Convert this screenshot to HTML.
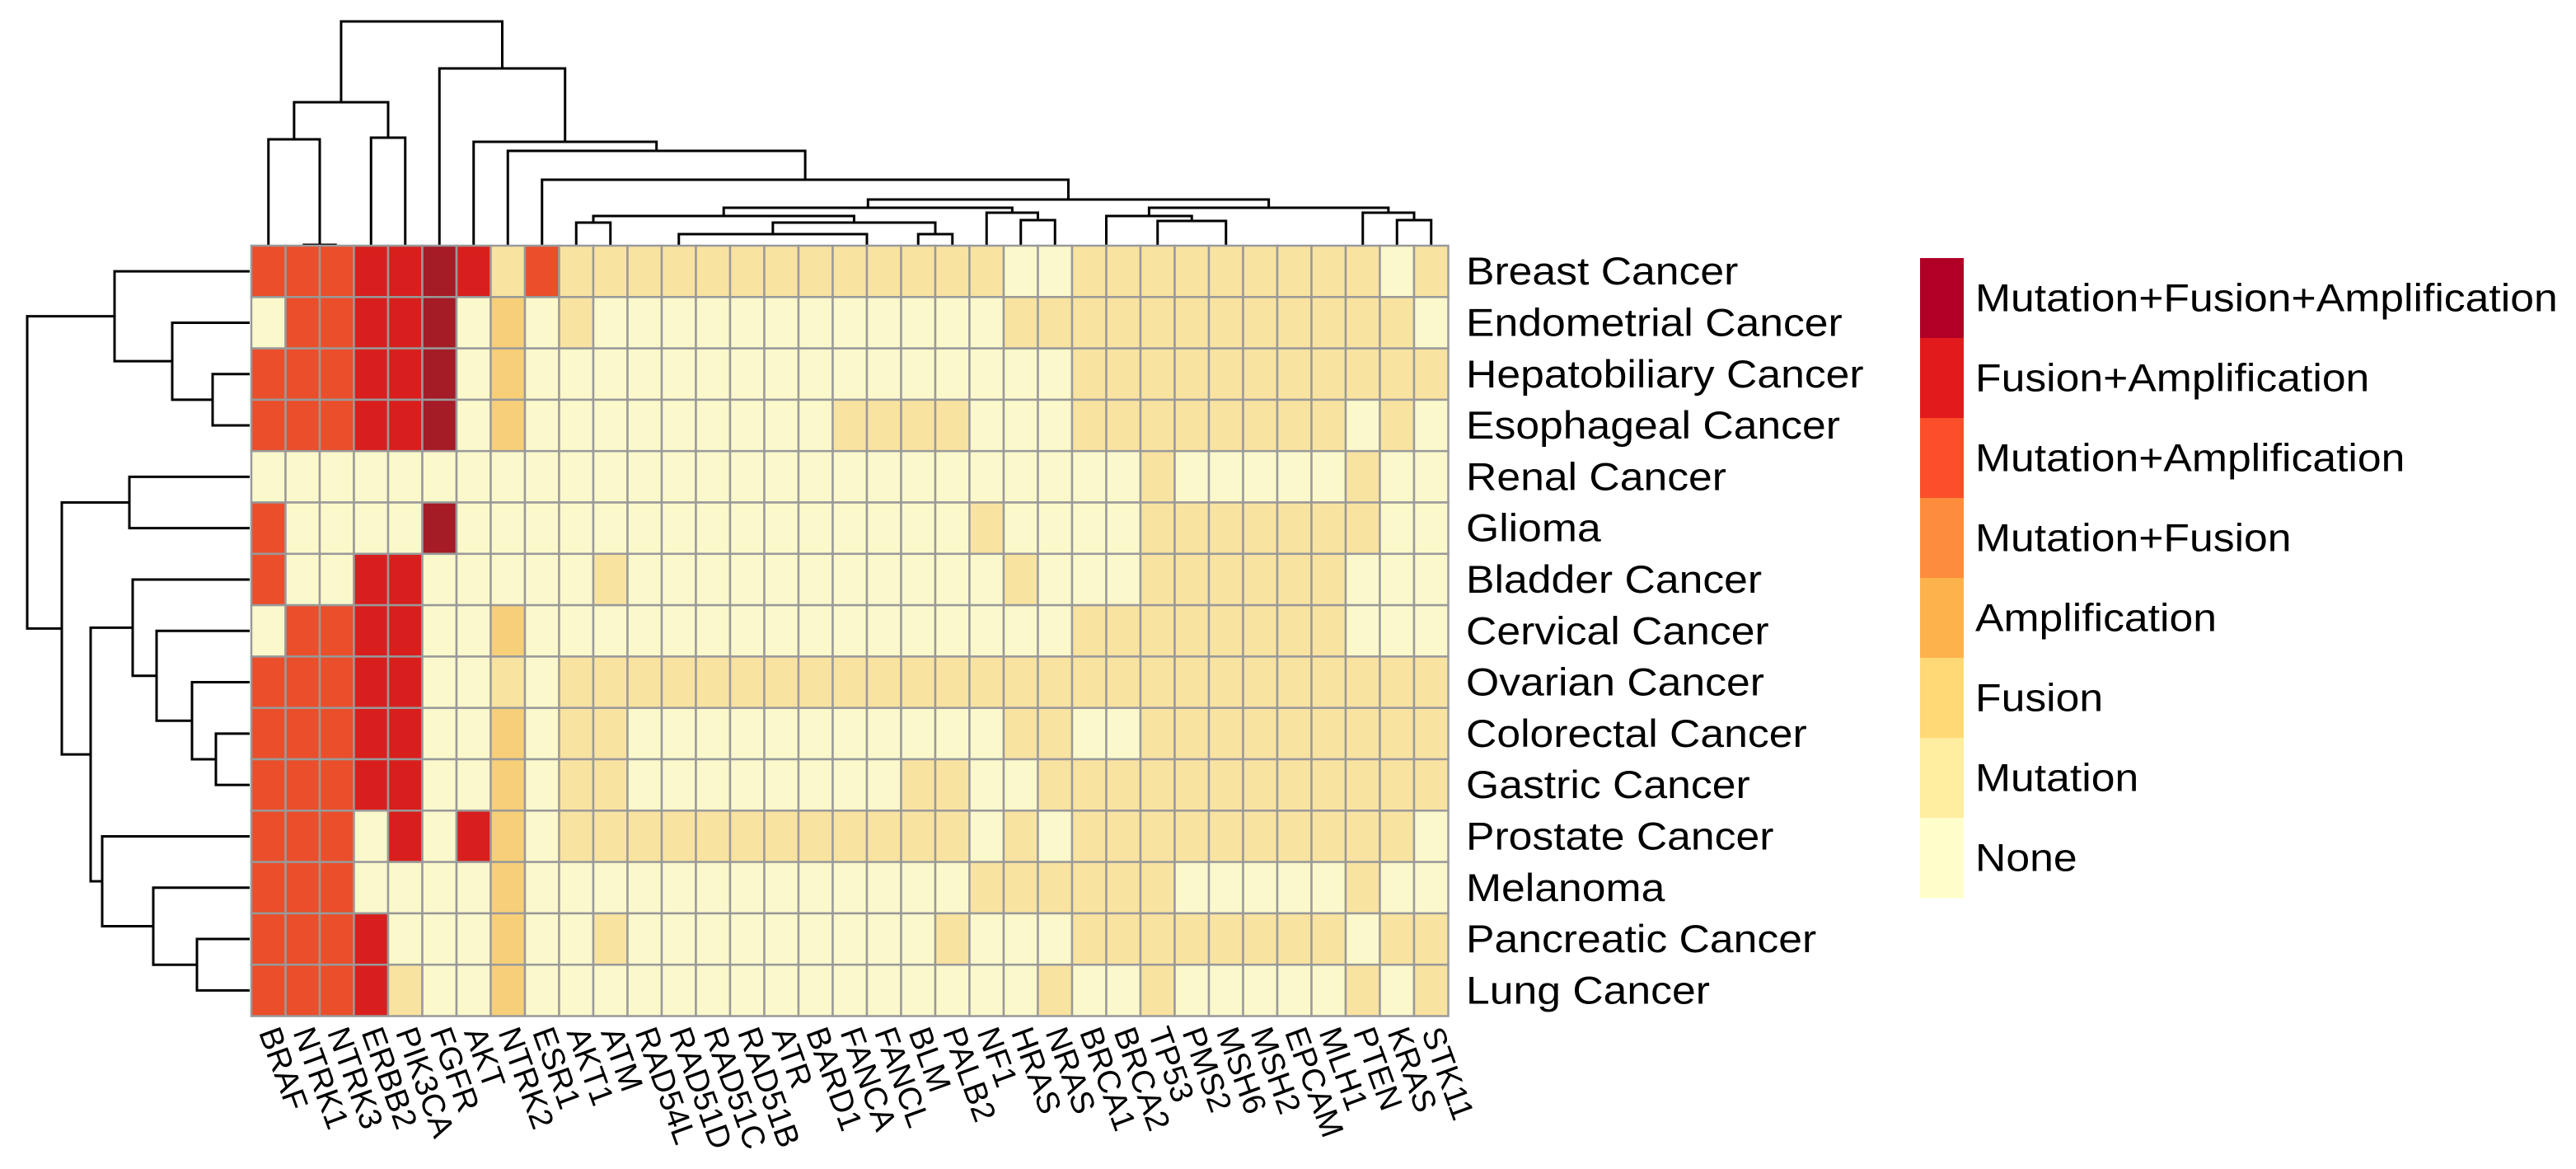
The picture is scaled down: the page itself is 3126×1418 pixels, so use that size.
<!DOCTYPE html>
<html><head><meta charset="utf-8"><style>
html,body{margin:0;padding:0;background:#fff;}
svg{display:block;font-family:"Liberation Sans",Arial,sans-serif;}
</style></head><body>
<svg id="chart" width="3126" height="1418" viewBox="0 0 3126 1418" xmlns="http://www.w3.org/2000/svg">
<g id="topTree"></g>
<g id="leftTree"></g>
<g id="cells"></g>
<g id="rowLabels"></g>
<g id="colLabels"></g>
<g id="legend"></g>
</svg>
<script>
const genes = ["BRAF","NTRK1","NTRK3","ERBB2","PIK3CA","FGFR","AKT","NTRK2","ESR1","AKT1","ATM","RAD54L","RAD51D","RAD51C","RAD51B","ATR","BARD1","FANCA","FANCL","BLM","PALB2","NF1","HRAS","NRAS","BRCA1","BRCA2","TP53","PMS2","MSH6","MSH2","EPCAM","MLH1","PTEN","KRAS","STK11"];
const cancers = ["Breast Cancer","Endometrial Cancer","Hepatobiliary Cancer","Esophageal Cancer","Renal Cancer","Glioma","Bladder Cancer","Cervical Cancer","Ovarian Cancer","Colorectal Cancer","Gastric Cancer","Prostate Cancer","Melanoma","Pancreatic Cancer","Lung Cancer"];
const categories = ["None","Mutation","Fusion","Amplification","Mutation+Fusion","Mutation+Amplification","Fusion+Amplification","Mutation+Fusion+Amplification"];
const row0  = [5,5,5,6,6,7,6,1,5, 1,1,1,1,1,1,1,1,1, 1,1,1,1, 0,0, 1,1,1,1,1,1,1,1,1, 0,1];
const row1  = [0,5,5,6,6,7,0,2,0, 1, 0,0,0,0,0,0,0,0, 0,0,0,0, 1,1,1,1,1,1,1,1,1,1,1,1, 0];
const row2  = [5,5,5,6,6,7,0,2,0, 0,0,0,0,0,0,0,0,0, 0,0,0,0,0,0, 1,1,1,1,1,1,1,1,1,1,1];
const row3  = [5,5,5,6,6,7,0,2,0, 0,0,0,0,0,0,0,0, 1, 1,1,1, 0,0,0, 1,1,1,1,1,1,1,1, 0,1,0];
const row4  = [0,0,0,0,0,0,0,0,0,0,0,0,0,0,0,0,0,0,0,0,0,0,0,0,0,0, 1, 0,0,0,0,0, 1, 0,0];
const row5  = [5,0,0,0,0,7, 0,0,0,0,0,0,0,0,0,0,0,0,0,0,0, 1, 0,0,0,0, 1,1,1,1,1,1,1, 0,0];
const row6  = [5,0,0,6,6, 0,0,0,0,0, 1, 0,0,0,0,0,0,0,0,0,0,0, 1, 0,0,0, 1,1,1,1,1,1, 0,0,0];
const row7  = [0,5,5,6,6,0,0,2,0, 0,0,0,0,0,0,0,0,0,0,0,0,0,0,0, 1,1,1,1,1,1,1,1, 0,0,0];
const row8  = [5,5,5,6,6,0,0,1,0, 1,1,1,1,1,1,1,1,1,1,1,1,1,1,1,1,1,1,1,1,1,1,1,1,1,1];
const row9  = [5,5,5,6,6,0,0,2,0,1,1, 0,0,0,0,0,0,0, 0,0,0,0, 1,1, 0,0, 1,1,1,1,1,1,1,1,1];
const row10 = [5,5,5,6,6,0,0,2,0,1,1, 0,0,0,0,0,0,0, 0, 1,1, 0,0, 1,1,1,1,1,1,1,1,1,1,1,1];
const row11 = [5,5,5,0,6,0,6,2,0, 1,1,1,1,1,1,1,1,1, 1,1,1, 0, 1, 0, 1,1,1,1,1,1,1,1,1,1, 0];
const row12 = [5,5,5,0,0,0,0,2,0, 0,0,0,0,0,0,0,0,0, 0,0,0, 1,1,1,1,1,1, 0,0,0,0,0, 1, 0,0];
const row13 = [5,5,5,6,0,0,0,2,0,0,1, 0,0,0,0,0,0,0, 0,0,1,0,0,0, 1,1,1,1,1,1,1,1, 0,1,1];
const row14 = [5,5,5,6,1,0,0,2,0, 0,0,0,0,0,0,0,0,0, 0,0,0,0,0, 1, 0,0, 1, 0,0,0,0,0, 1, 0,1];
const values = [row0,row1,row2,row3,row4,row5,row6,row7,row8,row9,row10,row11,row12,row13,row14];

const colTree = {
 a:[1,2,297], b:[0,"a",169], c:[3,4,167], d:["b","c",124],
 n1:[9,10,270], n2:[12,17.5,284], n3:[19,20,284], n4:["n2","n3",270], n5:["n1","n4",262],
 n6:[22,23,267], n7:[21,"n6",258], n8:["n5","n7",252],
 n9:[26,28,268], n10:[24.5,"n9",262], n11:[33,34,267], n12:[32,"n11",258], n13:["n10","n12",252],
 n14:["n8","n13",242], n15:[8,"n14",218], n16:[7,"n15",183], n17:[6,"n16",172], n18:[5,"n17",83],
 root:["d","n18",26]
};
const rowTree = {
 r1:[2,3,258], r2:[1,"r1",209], r3:[0,"r2",139], r4:[4,5,157],
 r5:[9,10,262], r6:[8,"r5",233], r7:[7,"r6",190], r8:[6,"r7",161],
 r9:[13,14,239], r10:[12,"r9",186], r11:[11,"r10",124], r12:["r8","r11",110],
 r13:["r4","r12",75], root:["r3","r13",33]
};

const NS="http://www.w3.org/2000/svg";
const X0=305, Y0=298, CW=41.5, RH=62.3;
const cellColors=["#FBF8CB","#F9E3A0","#F8CF79","#F6AE4F","#F38D3E","#EB4E2B","#D81F1D","#A51B26"];
const legendColors=["#FFFFCC","#FFEDA0","#FED976","#FEB24C","#FD8D3C","#FC4E2A","#E31A1C","#B10026"];
const xCol=i=>X0+CW*(i+0.5);
const yRow=i=>Y0+RH*(i+0.5);
function mk(tag,attrs,parent){const e=document.createElementNS(NS,tag);for(const k in attrs)e.setAttribute(k,attrs[k]);parent.appendChild(e);return e;}

const gC=document.getElementById('cells');
values.forEach((row,r)=>row.forEach((v,c)=>{
  const e=mk('rect',{x:X0+c*CW,y:Y0+r*RH,width:CW,height:RH,fill:cellColors[v],stroke:"#999",'stroke-width':2.5},gC);
  
  
}));

const gR=document.getElementById('rowLabels');
cancers.forEach((n,r)=>{
  const t=mk('text',{x:0,y:0,'font-size':47,fill:"#000",transform:`translate(1779 ${yRow(r)+16}) scale(1.1 1)`},gR);
  t.textContent=n;
  
  
});
const gL=document.getElementById('colLabels');
genes.forEach((n,c)=>{
  const x=xCol(c)-12, y=1252;
  const t=mk('text',{x:x,y:y,'font-size':39,fill:"#000",transform:`rotate(70 ${x} ${y})`},gL);
  t.textContent=n;
  
  
});

const gT=document.getElementById('topTree');
function colNode(k){
  if(typeof k==="number") return {x:xCol(k),y:297};
  const [l,r,h]=colTree[k]; const L=colNode(l),R=colNode(r);
  const p=mk('path',{d:`M${L.x},${L.y}V${h}H${R.x}V${R.y}`,fill:"none",stroke:"#000",'stroke-width':3},gT);
  
  
  return {x:(L.x+R.x)/2,y:h};
}
colNode("root");
const gD=document.getElementById('leftTree');
function rowNode(k){
  if(typeof k==="number") return {x:303,y:yRow(k)};
  const [a,b,h]=rowTree[k]; const A=rowNode(a),B=rowNode(b);
  const p=mk('path',{d:`M${A.x},${A.y}H${h}V${B.y}H${B.x}`,fill:"none",stroke:"#000",'stroke-width':3},gD);
  
  
  return {x:h,y:(A.y+B.y)/2};
}
rowNode("root");

const gG=document.getElementById('legend');
const LY=313, LH=97;
for(let i=7;i>=0;i--){
  const k=7-i;
  const r=mk('rect',{x:2330,y:LY+k*LH,width:53,height:LH+0.5,fill:legendColors[i]},gG);
  
  
  const t=mk('text',{x:0,y:0,'font-size':47,fill:"#000",transform:`translate(2397 ${LY+k*LH+LH/2+16}) scale(1.1 1)`},gG);
  t.textContent=categories[i];
  
  
}
</script>
</body></html>
